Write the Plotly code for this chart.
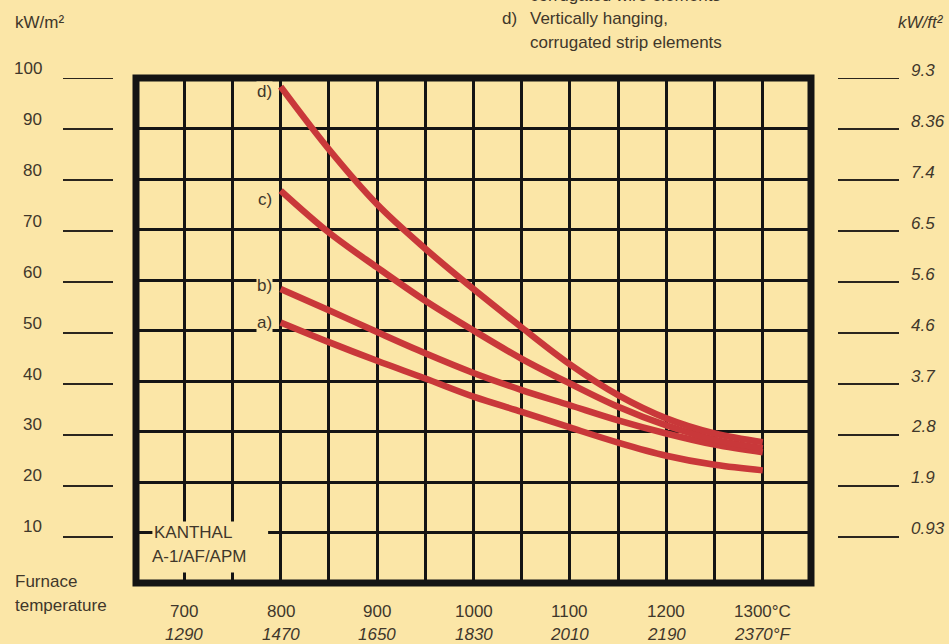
import plotly.graph_objects as go

# ---------------- data ----------------
temps_c = [800, 850, 900, 950, 1000, 1050, 1100, 1150, 1200, 1250, 1300]
curve_a = [51.6, 47.7, 44.0, 40.5, 36.9, 33.9, 30.8, 27.8, 25.2, 23.4, 22.3]
curve_b = [58.2, 54.0, 49.7, 45.5, 41.6, 38.2, 35.2, 32.2, 29.6, 27.4, 25.9]
curve_c = [77.7, 69.4, 62.5, 55.9, 50.0, 44.4, 39.5, 34.9, 31.2, 28.4, 26.7]
curve_d = [98.3, 85.9, 75.0, 66.2, 58.2, 50.6, 43.3, 37.2, 32.6, 29.6, 27.9]
curve_names = ["a)", "b)", "c)", "d)"]
curve_label_y = [51.5, 59.0, 76.0, 97.3]

kwm2_ticks = [100, 90, 80, 70, 60, 50, 40, 30, 20, 10]
kwft2_labels = ["9.3", "8.36", "7.4", "6.5", "5.6", "4.6", "3.7", "2.8", "1.9", "0.93"]

c_ticks = [700, 800, 900, 1000, 1100, 1200, 1300]
c_labels = ["700", "800", "900", "1000", "1100", "1200", "1300°C"]
f_labels = ["1290", "1470", "1650", "1830", "2010", "2190", "2370°F"]

# ---------------- style ----------------
W, H = 949, 644
L, R, T, B = 136, 811, 78, 583
BG = "#fbe6a7"
INK = "#3f372b"
RED = "#c9383a"
FONT = "Liberation Sans, Arial, sans-serif"
FS = 17


def px(x):
    return (x - L) / (R - L)


def py(y):
    return (B - y) / (B - T)


fig = go.Figure()

for vals in [curve_a, curve_b, curve_c, curve_d]:
    fig.add_trace(go.Scatter(
        x=temps_c, y=vals, mode="lines",
        line=dict(color=RED, width=6.5, shape="spline", smoothing=1.0),
        hoverinfo="skip", showlegend=False,
    ))

# invisible helper axis for the side scales (slightly different spacing)
fig.add_trace(go.Scatter(x=[None], y=[None], yaxis="y2", showlegend=False))

annotations = []
shapes = []

# cover behind KANTHAL label (between grid and traces)
shapes.append(dict(type="rect", xref="x", yref="y", x0=667, x1=787, y0=2.1, y1=12.2,
                   fillcolor=BG, line=dict(width=0), layer="between"))
# thick frame
shapes.append(dict(type="rect", xref="paper", yref="paper", x0=0, x1=1, y0=0, y1=1,
                   line=dict(color="#141414", width=7), layer="above"))

# side dashes and labels
for v, rl in zip(kwm2_ticks, kwft2_labels):
    shapes.append(dict(type="line", xref="paper", yref="y2", x0=px(63), x1=px(113), y0=v, y1=v,
                       line=dict(color="#2a251e", width=2)))
    shapes.append(dict(type="line", xref="paper", yref="y2", x0=px(838), x1=px(899), y0=v, y1=v,
                       line=dict(color="#2a251e", width=2)))
    annotations.append(dict(xref="paper", yref="y2", x=px(44), y=v, yshift=10, text=str(v),
                            showarrow=False, xanchor="right", yanchor="middle",
                            font=dict(family=FONT, size=FS, color=INK)))
    annotations.append(dict(xref="paper", yref="y2", x=px(909), y=v, yshift=8,
                            text="<i>" + rl + "</i>",
                            showarrow=False, xanchor="left", yanchor="middle",
                            font=dict(family=FONT, size=FS, color=INK)))

# bottom temperature labels
for t, cl, fl in zip(c_ticks, c_labels, f_labels):
    annotations.append(dict(xref="x", yref="paper", x=t, y=0, yshift=-(611 - B), text=cl,
                            showarrow=False, xanchor="center", yanchor="middle",
                            font=dict(family=FONT, size=FS, color=INK)))
    annotations.append(dict(xref="x", yref="paper", x=t, y=0, yshift=-(634 - B),
                            text="<i>" + fl + "</i>",
                            showarrow=False, xanchor="center", yanchor="middle",
                            font=dict(family=FONT, size=FS, color=INK)))

# curve labels
for name, ly in zip(curve_names, curve_label_y):
    annotations.append(dict(xref="x", yref="y", x=792, y=ly, text=name, showarrow=False,
                            xanchor="right", yanchor="middle", bgcolor=BG, borderpad=0,
                            font=dict(family=FONT, size=FS, color=INK)))


def txt(x, y, s, anchor="left", italic=False):
    annotations.append(dict(xref="paper", yref="paper", x=px(x), y=py(y),
                            text=("<i>" + s + "</i>") if italic else s,
                            showarrow=False, xanchor=anchor, yanchor="middle",
                            font=dict(family=FONT, size=FS, color=INK)))


txt(13, 23, "kW/m²")
txt(946, 23, "kW/ft²", anchor="right", italic=True)
txt(13, 581, "Furnace")
txt(13, 605, "temperature")
txt(152, 532, "KANTHAL")
txt(150, 556, "A-1/AF/APM")
txt(528, -5, "corrugated wire elements")
txt(500, 19, "d)")
txt(528, 19, "Vertically hanging,")
txt(528, 43, "corrugated strip elements")

fig.update_layout(
    width=W, height=H, autosize=False,
    margin=dict(l=L, r=W - R, t=T, b=H - B, pad=0),
    paper_bgcolor=BG, plot_bgcolor=BG,
    xaxis=dict(range=[650, 1350], dtick=50, tick0=650, showgrid=True, gridcolor="#141414",
               gridwidth=3, showticklabels=False, ticks="", zeroline=False, showline=False,
               fixedrange=True),
    yaxis=dict(range=[0, 100], dtick=10, tick0=0, showgrid=True, gridcolor="#141414",
               gridwidth=3, showticklabels=False, ticks="", zeroline=False, showline=False,
               fixedrange=True),
    yaxis2=dict(range=[0.97, 100.02], overlaying="y", visible=False, showgrid=False,
                fixedrange=True),
    shapes=shapes,
    annotations=annotations,
    showlegend=False,
)

fig.write_html(
    "out.html",
    config={"displayModeBar": False, "staticPlot": True},
    post_script="document.body.style.margin='0';document.body.style.overflow='hidden';",
)
